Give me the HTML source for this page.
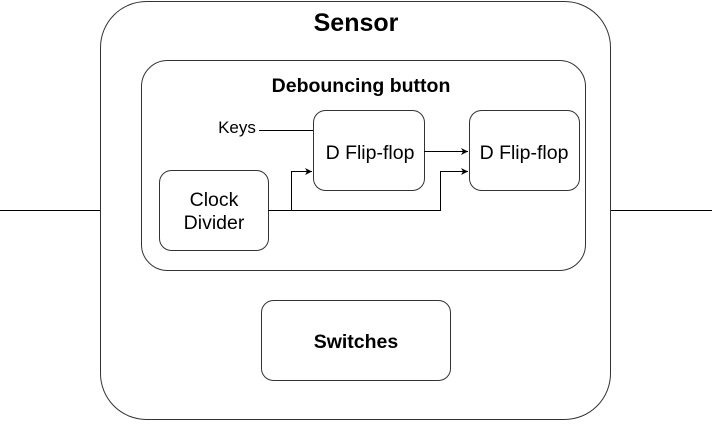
<!DOCTYPE html>
<html><head><style>body{margin:0;background:#fff}</style></head><body>
<svg width="712" height="421" viewBox="0 0 712 421" xmlns="http://www.w3.org/2000/svg" font-family="Liberation Sans, Arial, sans-serif">
<defs><marker id="a" markerWidth="8" markerHeight="8" refX="7" refY="4" orient="auto" markerUnits="userSpaceOnUse"><path d="M0,0.5 L7,4 L0,7.5 L2,4 Z" fill="#000"/></marker></defs>
<g fill="none" stroke="#000" stroke-width="1">
<line x1="0" y1="210.5" x2="100" y2="210.5"/>
<line x1="611" y1="210.5" x2="712" y2="210.5"/>
<rect x="100.5" y="1.5" width="510" height="418" rx="46" stroke="#333"/>
<rect x="141.5" y="60.5" width="444" height="210" rx="26" stroke="#333"/>
<rect x="313.5" y="110.5" width="111" height="80" rx="12" stroke="#333"/>
<rect x="469.5" y="110.5" width="110" height="80" rx="12" stroke="#333"/>
<rect x="159.5" y="170.5" width="109" height="80" rx="12" stroke="#333"/>
<rect x="261.5" y="300.5" width="189" height="80" rx="12" stroke="#333"/>
<line x1="259" y1="130.5" x2="313" y2="130.5"/>
<line x1="424" y1="151.5" x2="468" y2="151.5" marker-end="url(#a)"/>
<polyline points="268,210.5 291.5,210.5 291.5,171.5 312,171.5" marker-end="url(#a)"/>
<polyline points="291,210.5 440.5,210.5 440.5,171.5 468,171.5" marker-end="url(#a)"/>
</g>
<g fill="#000" text-anchor="middle">
<text x="356" y="31" font-size="25" font-weight="bold">Sensor</text>
<text x="361" y="92" font-size="19.5" font-weight="bold">Debouncing button</text>
<text x="370" y="159" font-size="19.5">D Flip-flop</text>
<text x="524" y="159" font-size="19.5">D Flip-flop</text>
<text x="214" y="206" font-size="19.5">Clock</text>
<text x="214" y="229" font-size="19.5">Divider</text>
<text x="356" y="348" font-size="19.5" font-weight="bold">Switches</text>
<text x="237" y="133" font-size="17">Keys</text>
</g>
</svg>
</body></html>
